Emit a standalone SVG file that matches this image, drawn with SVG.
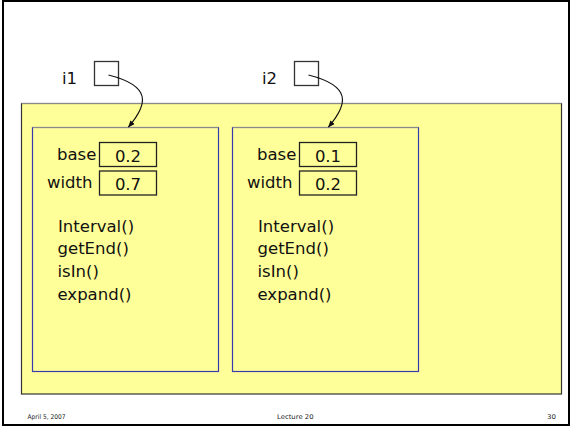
<svg xmlns="http://www.w3.org/2000/svg" width="571" height="427" viewBox="0 0 571 427">
  <style>
    .t { font-family: "DejaVu Sans", Verdana, sans-serif; font-size: 16.5px; fill: #111; }
    .v { text-anchor: middle; }
    .foot { font-family: "DejaVu Sans", Verdana, sans-serif; font-size: 6.5px; fill: #222; }
    .slot { fill: none; stroke: #222; stroke-width: 1.3; }
    .ref { fill: #fff; stroke: #333; stroke-width: 1.3; }
    .obj { fill: #ffff99; stroke: #3a3ab0; stroke-width: 1.2; }
    .edge { fill: none; stroke: #111; stroke-width: 1.1; marker-end: url(#head); }
  </style>
  <defs>
    <marker id="head" viewBox="0 0 10 10" refX="9" refY="5" markerWidth="7" markerHeight="7" orient="auto" markerUnits="userSpaceOnUse">
      <path d="M0,1 L10,5 L0,9 z" fill="#111"/>
    </marker>
  </defs>

  <!-- slide background and frame -->
  <rect x="0" y="0" width="571" height="427" fill="#fff"/>
  <rect x="3" y="1" width="566" height="424" fill="none" stroke="#000" stroke-width="2"/>

  <!-- heap area -->
  <g id="heap">
    <rect x="21.5" y="103.5" width="540" height="290.5" fill="#ffff99" stroke="#333" stroke-width="1.2"/>
    <line x1="21.5" y1="103.5" x2="561.5" y2="103.5" stroke="#8a8a8a" stroke-width="1.2"/>
  </g>

  <!-- variable i1 -->
  <g id="var-i1">
    <text class="t" x="62" y="83.5">i1</text>
    <rect class="ref" x="94.5" y="61.5" width="24" height="24"/>
  </g>

  <!-- variable i2 -->
  <g id="var-i2">
    <text class="t" x="262" y="83.5">i2</text>
    <rect class="ref" x="294.5" y="61.5" width="24" height="24"/>
  </g>

  <!-- Interval object referenced by i1 -->
  <g id="obj-1">
    <rect class="obj" x="32.5" y="127.5" width="186" height="244"/>
    <line x1="32.5" y1="127.5" x2="218.5" y2="127.5" stroke="#8a8a8a" stroke-width="1.2"/>
    <text class="t" x="57" y="160">base</text>
    <rect class="slot" x="99.5" y="142.5" width="57" height="24"/>
    <text class="t v" x="128" y="162">0.2</text>
    <text class="t" x="47" y="188">width</text>
    <rect class="slot" x="99.5" y="171" width="57" height="24"/>
    <text class="t v" x="128" y="189.5">0.7</text>
    <text class="t" x="58" y="231.5">Interval()</text>
    <text class="t" x="57.5" y="253.5">getEnd()</text>
    <text class="t" x="57.5" y="276.5">isIn()</text>
    <text class="t" x="57.5" y="300">expand()</text>
  </g>

  <!-- Interval object referenced by i2 -->
  <g id="obj-2">
    <rect class="obj" x="232.5" y="127.5" width="186" height="244"/>
    <line x1="232.5" y1="127.5" x2="418.5" y2="127.5" stroke="#8a8a8a" stroke-width="1.2"/>
    <text class="t" x="257" y="160">base</text>
    <rect class="slot" x="299.5" y="142.5" width="57" height="24"/>
    <text class="t v" x="328" y="162">0.1</text>
    <text class="t" x="247" y="188">width</text>
    <rect class="slot" x="299.5" y="171" width="57" height="24"/>
    <text class="t v" x="328" y="189.5">0.2</text>
    <text class="t" x="258" y="231.5">Interval()</text>
    <text class="t" x="257.5" y="253.5">getEnd()</text>
    <text class="t" x="257.5" y="276.5">isIn()</text>
    <text class="t" x="257.5" y="300">expand()</text>
  </g>

  <!-- references -->
  <g id="connectors">
    <path class="edge" d="M108.5,75 C152,86 148,104 128.5,127"/>
    <path class="edge" d="M308.5,75 C352,86 348,104 328.5,127"/>
  </g>

  <!-- footer -->
  <g id="footer">
    <text class="foot" x="27.5" y="419" textLength="38" lengthAdjust="spacingAndGlyphs">April 5, 2007</text>
    <text class="foot" x="277" y="419" textLength="36.5" lengthAdjust="spacingAndGlyphs">Lecture 20</text>
    <text class="foot" x="547" y="419" textLength="9" lengthAdjust="spacingAndGlyphs">30</text>
  </g>
</svg>
